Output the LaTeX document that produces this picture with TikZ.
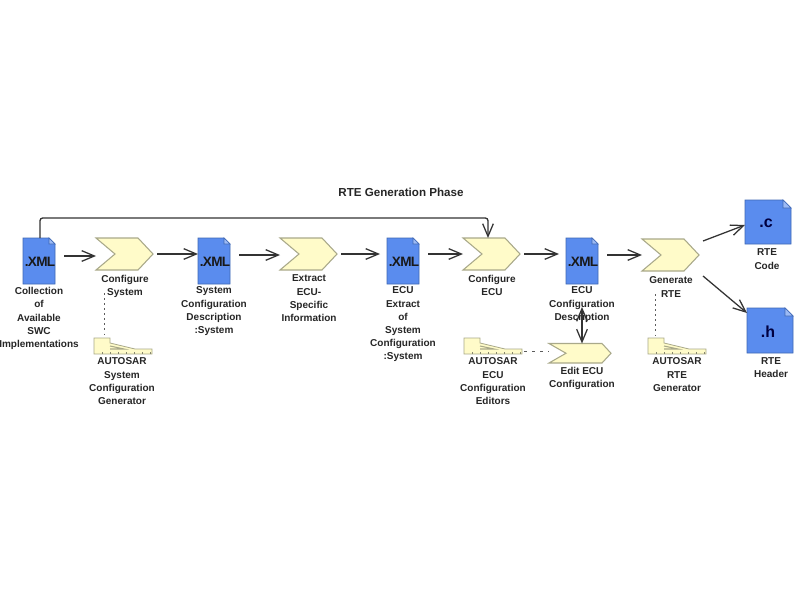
\documentclass[tikz,border=0pt]{standalone}
\usepackage{fontspec}
\setmainfont{Liberation Sans}
\usetikzlibrary{arrows.meta}
\definecolor{docblue}{HTML}{5A8CEE}
\definecolor{docline}{HTML}{3F68B5}
\definecolor{chevfill}{HTML}{FFFBC9}
\definecolor{chevline}{HTML}{A9A98A}
\definecolor{txt}{HTML}{262626}
\definecolor{conn}{HTML}{333333}
\tikzset{
  x=0.75pt,y=-0.75pt,
  lbl/.style={inner sep=0pt,outer sep=0pt,anchor=north,align=center,text=txt,font=\bfseries\fontsize{7.5}{9.9}\selectfont},
  ttl/.style={inner sep=0pt,outer sep=0pt,text=txt,font=\bfseries\fontsize{8.7}{10}\selectfont},
  xmltxt/.style={inner sep=0pt,outer sep=0pt,text=black!90,font=\bfseries\fontsize{10.2}{10}\selectfont\addfontfeatures{LetterSpace=-5}},
  exttxt/.style={inner sep=0pt,outer sep=0pt,text=blue!25!black,font=\bfseries\fontsize{12}{12}\selectfont},
  docshape/.style={fill=docblue,draw=docline,line width=0.6pt},
  chevshape/.style={fill=chevfill,draw=chevline,line width=0.8pt},
  flow/.style={draw=conn,line width=0.95pt,-{Straight Barb[length=9.5pt,width=8pt,line width=0.95pt]}},
  dots/.style={draw=conn!80,line width=0.75pt,dash pattern=on 1.4pt off 2.4pt},
  dashline/.style={draw=conn!80,line width=0.7pt,dash pattern=on 2.6pt off 3.4pt},
}
% \docnode{name}{left}{top}{w}{h}{fold}
\newcommand{\docnode}[6]{%
  \path[docshape] (#2,#3) -- ({#2+#4-#6},#3) -- ({#2+#4},{#3+#6}) -- ({#2+#4},{#3+#5}) -- (#2,{#3+#5}) -- cycle;
  \path[draw=docline,fill=docblue!60!white,line width=0.5pt] ({#2+#4-#6},#3) -- ({#2+#4-#6},{#3+#6}) -- ({#2+#4},{#3+#6}) -- cycle;
  \coordinate (#1-w) at (#2,{#3+#5/2});
  \coordinate (#1-e) at ({#2+#4},{#3+#5/2});
  \coordinate (#1-n) at ({#2+#4/2},#3);
  \coordinate (#1-s) at ({#2+#4/2},{#3+#5});
}
% \chevnode{name}{left}{top}{w}{h}{notch}{point}
\newcommand{\chevnode}[7]{%
  \path[chevshape] (#2,#3) -- ({#2+#4-#7},#3) -- ({#2+#4},{#3+#5/2}) -- ({#2+#4-#7},{#3+#5}) -- (#2,{#3+#5}) -- ({#2+#6},{#3+#5/2}) -- cycle;
  \coordinate (#1-w) at ({#2},{#3+#5/2});
  \coordinate (#1-e) at ({#2+#4},{#3+#5/2});
  \coordinate (#1-n) at ({#2+#4/2},#3);
  \coordinate (#1-s) at ({#2+#4/2},{#3+#5});
}
% \toolnode{name}{left}{top}
\newcommand{\toolnode}[3]{%
  \path[chevshape,line width=0.6pt] (#2,#3) -- ({#2+16},#3) -- ({#2+16},{#3+5}) -- ({#2+41},{#3+11}) -- ({#2+58},{#3+11}) -- ({#2+58},{#3+16}) -- (#2,{#3+16}) -- cycle;
  \path[draw=chevline,line width=0.8pt] ({#2+16},{#3+8}) -- ({#2+30},{#3+11}) -- ({#2+16},{#3+11});
  \foreach \k in {8,16,...,56} {\path[draw=chevline!80!black,line width=0.5pt] ({#2+\k},{#3+14}) -- ({#2+\k},{#3+16});}
  \coordinate (#1-n) at ({#2+10},#3);
  \coordinate (#1-e) at ({#2+58},{#3+13});
}
\begin{document}
\begin{tikzpicture}
\useasboundingbox (0,0) rectangle (800,600);
\fill[white] (0,0) rectangle (800,600);
\begin{scope}
\clip (0,0) rectangle (800,600);

\docnode{d1}{23}{238}{32}{46}{6}
\docnode{d2}{198}{238}{32}{46}{6}
\docnode{d3}{387}{238}{32}{46}{6}
\docnode{d4}{566}{238}{32}{46}{6}
\docnode{dc}{745}{200}{46}{44}{8}
\docnode{dh}{747}{308}{46}{45}{8}

\chevnode{c1}{96}{238}{57}{32}{19}{15}
\chevnode{c2}{280}{238}{57}{32}{19}{15}
\chevnode{c3}{463}{238}{57}{32}{19}{15}
\chevnode{c4}{642}{239}{57}{32}{19}{15}
\chevnode{ce}{549}{343.5}{62}{19.5}{17}{9}

\toolnode{t1}{94}{338}
\toolnode{t2}{464}{338}
\toolnode{t3}{648}{338}

\node[xmltxt] (x1) at (40,262) {.XML};
\node[xmltxt] (x2) at (215,262) {.XML};
\node[xmltxt] (x3) at (404,262) {.XML};
\node[xmltxt] (x4) at (583,262) {.XML};
\node[exttxt] (xc) at (766,223.5) {.c};
\node[exttxt] (xh) at (768,331.5) {.h};

\node[ttl] (title) at (401,192) {RTE Generation Phase};

\node[lbl] (l1) at (39,287.5) {Collection\\of\\Available\\SWC\\Implementations};
\node[lbl] (l2) at (125,275) {Configure\\System};
\node[lbl] (l3) at (122,358) {AUTOSAR\\System\\Configuration\\Generator};
\node[lbl] (l4) at (214,287) {System\\Configuration\\Description\\:System};
\node[lbl] (l5) at (309,275) {Extract\\ECU-\\Specific\\Information};
\node[lbl] (l6) at (403,287) {ECU\\Extract\\of\\System\\Configuration\\:System};
\node[lbl] (l7) at (492,275) {Configure\\ECU};
\node[lbl] (l8) at (493,358) {AUTOSAR\\ECU\\Configuration\\Editors};
\node[lbl] (l9) at (582,287) {ECU\\Configuration\\Description};
\node[lbl] (l10) at (582,367) {Edit ECU\\Configuration};
\node[lbl] (l11) at (671,277) {Generate\\RTE};
\node[lbl] (l12) at (677,358) {AUTOSAR\\RTE\\Generator};
\node[lbl] (l13) at (767,249) {RTE\\Code};
\node[lbl] (l14) at (771,357.5) {RTE\\Header};

\draw[flow] ([xshift=6.75pt]d1-e |- 0,256) -- (c1-w |- 0,256);
\draw[flow] ([xshift=3pt]c1-e |- 0,254) -- (d2-w |- 0,254);
\draw[flow] ([xshift=6.75pt]d2-e |- 0,255) -- (c2-w |- 0,255);
\draw[flow] ([xshift=3pt]c2-e |- 0,254) -- ([xshift=-5.25pt]d3-w |- 0,254);
\draw[flow] ([xshift=6.75pt]d3-e |- 0,254) -- (c3-w);
\draw[flow] ([xshift=3pt]c3-e |- 0,254) -- ([xshift=-5.25pt]d4-w |- 0,254);
\draw[flow] ([xshift=6.75pt]d4-e |- 0,255) -- (c4-w);
\draw[flow] ([xshift=3pt]c4-e |- 0,241) -- (dc-w |- 0,225);
\draw[flow] ([xshift=3pt]c4-e |- 0,276) -- (dh-w |- 0,313);
\draw[flow,rounded corners=2pt] (40,238) -- (40,218) -- (488,218) -- (488,238);
\draw[flow] (582,316) -- (ce-n -| 582,343);
\draw[flow] (582,340) -- (582,307);
\draw[dots] (104,293) -- (t1-n -| 104,338);
\draw[dots] (655,294) -- (t3-n -| 655,338);
\draw[dashline] ([xshift=1.5pt]t2-e |- 0,351) -- (ce-w |- 0,351);
\end{scope}
\end{tikzpicture}
\end{document}
